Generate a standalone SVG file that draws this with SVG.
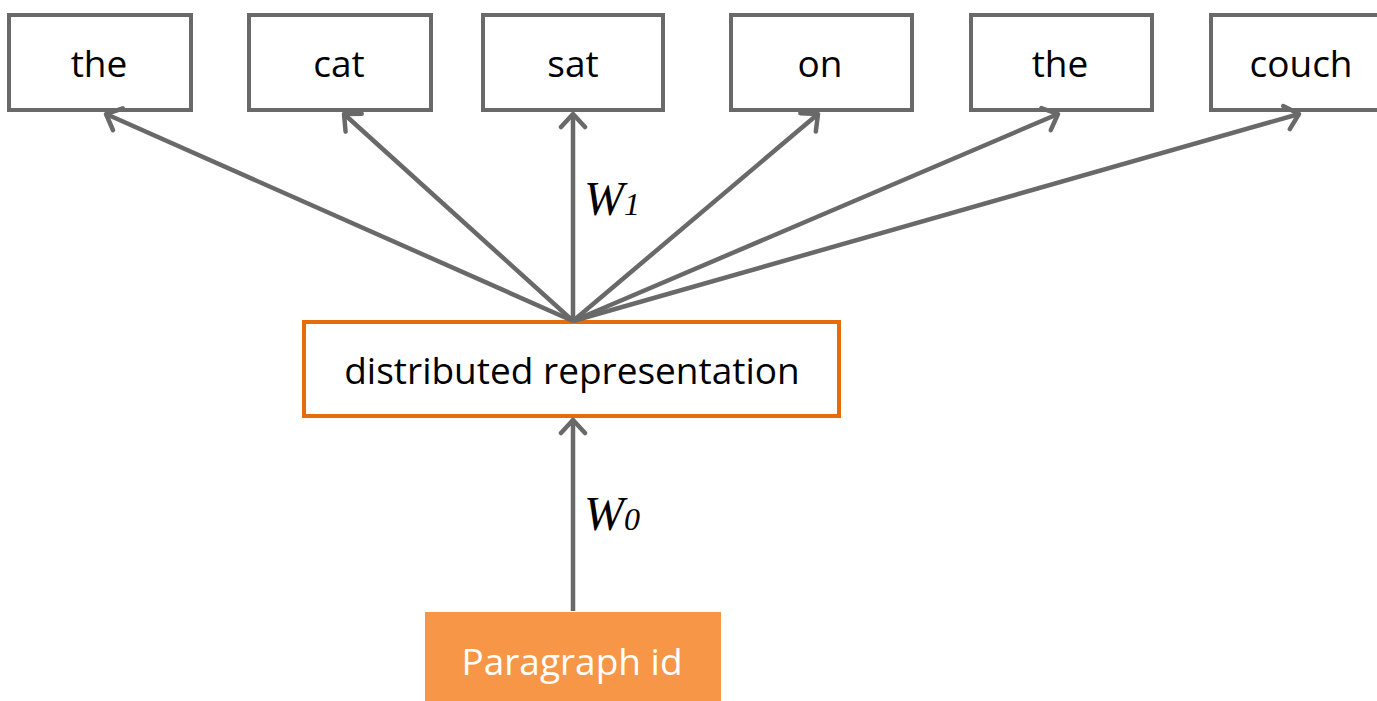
<svg xmlns="http://www.w3.org/2000/svg" width="1377" height="701" viewBox="0 0 1377 701">
  <style>
    .word rect { fill: #ffffff; stroke: #696969; stroke-width: 4; }
    .lbl { font-family: "Open Sans", "Liberation Sans", sans-serif; font-size: 37px; fill: #000000; text-anchor: middle; }
    .edge { stroke: #696969; stroke-width: 4.5; fill: none; marker-end: url(#head); }
    .w { font-family: "Liberation Serif", "DejaVu Serif", serif; font-style: italic; fill: #000000; }
  </style>
  <defs>
    <marker id="head" markerUnits="userSpaceOnUse" markerWidth="30" markerHeight="30" viewBox="-16 -15 20 30" refX="0" refY="0" orient="auto">
      <path d="M-13,-12 L0,0 L-13,12" fill="none" stroke="#696969" stroke-width="4.5" stroke-linecap="round" stroke-linejoin="round"/>
    </marker>
  </defs>

  <rect width="1377" height="701" fill="#ffffff"/>

  <!-- output words -->
  <g id="w-the1" class="word"><rect x="9" y="15" width="182" height="95"/><text class="lbl" x="99" y="77">the</text></g>
  <g id="w-cat" class="word"><rect x="249" y="15" width="182" height="95"/><text class="lbl" x="339" y="77">cat</text></g>
  <g id="w-sat" class="word"><rect x="483" y="15" width="180" height="95"/><text class="lbl" x="573" y="77">sat</text></g>
  <g id="w-on" class="word"><rect x="731" y="15" width="181" height="95"/><text class="lbl" x="820" y="77">on</text></g>
  <g id="w-the2" class="word"><rect x="971" y="15" width="181" height="95"/><text class="lbl" x="1060" y="77">the</text></g>
  <g id="w-couch" class="word"><rect x="1211" y="15" width="182" height="95"/><text class="lbl" x="1301" y="77">couch</text></g>

  <!-- hidden layer -->
  <g id="distributed">
    <rect x="304" y="322" width="535" height="94" fill="#ffffff" stroke="#E46C0A" stroke-width="4"/>
    <text class="lbl" x="572" y="384">distributed representation</text>
  </g>

  <!-- input -->
  <g id="paragraph-id">
    <rect x="425" y="612" width="296" height="89" fill="#F79646"/>
    <text class="lbl" x="572" y="675" style="fill:#ffffff">Paragraph id</text>
  </g>

  <!-- connectors -->
  <g id="connectors">
    <line class="edge" x1="573" y1="321" x2="106" y2="114"/>
    <line class="edge" x1="573" y1="321" x2="344" y2="114"/>
    <line class="edge" x1="573" y1="321" x2="573" y2="114"/>
    <line class="edge" x1="573" y1="321" x2="818" y2="114"/>
    <line class="edge" x1="573" y1="321" x2="1058" y2="114"/>
    <line class="edge" x1="573" y1="321" x2="1299" y2="114"/>
    <line class="edge" x1="573" y1="611" x2="573" y2="420"/>
  </g>

  <!-- weight labels -->
  <g id="label-w1">
    <text class="w" x="584" y="215" font-size="48">W<tspan font-size="32">1</tspan></text>
  </g>
  <g id="label-w0">
    <text class="w" x="584" y="530" font-size="48">W<tspan font-size="32">0</tspan></text>
  </g>
</svg>
